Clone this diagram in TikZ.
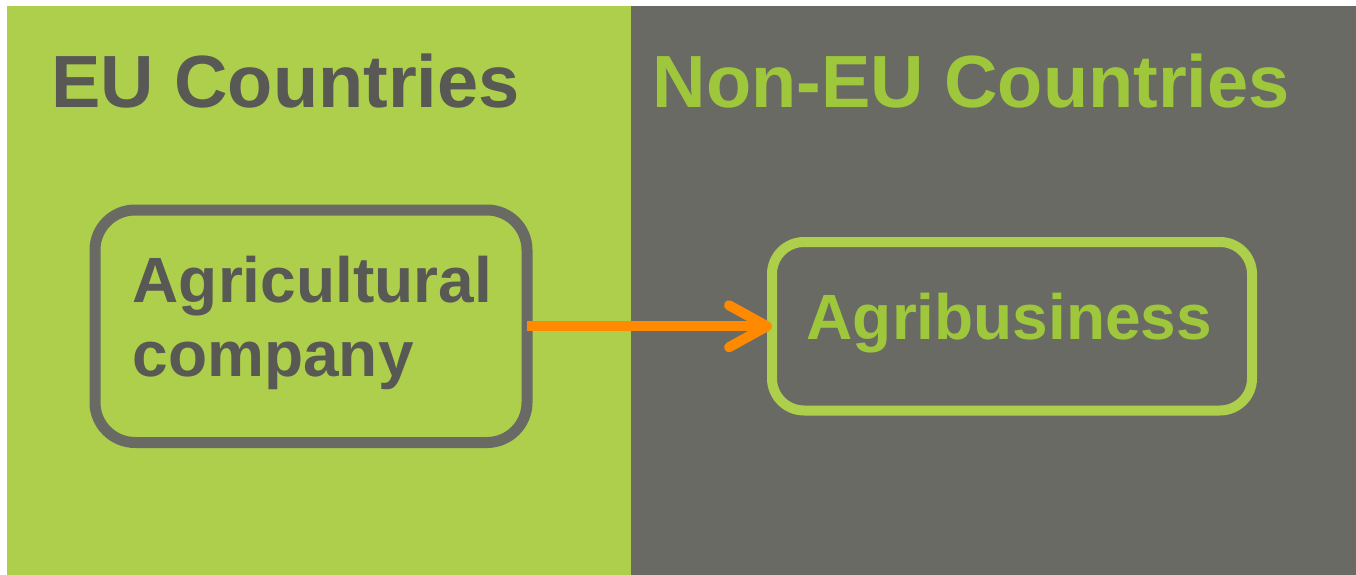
\documentclass[tikz,border=0pt]{standalone}
\usepackage{fontspec}
\setmainfont{Liberation Sans}
\usetikzlibrary{arrows.meta}
\definecolor{eugreen}{RGB}{173,207,76}
\definecolor{eugray}{RGB}{106,106,100}
\definecolor{darktext}{RGB}{88,88,85}
\definecolor{greentext}{RGB}{158,199,60}
\definecolor{arroworange}{RGB}{255,138,0}
\begin{document}
\begin{tikzpicture}[x=1pt,y=-1pt,
  boxnode/.style={draw, outer sep=0pt, inner sep=0pt},
  titletext/.style={inner sep=0pt, anchor=base west, font=\bfseries\fontsize{74}{74}\selectfont},
  boxtext/.style={inner sep=0pt, anchor=base west, font=\bfseries\fontsize{64}{64}\selectfont},
  flowarrow/.style={draw=arroworange, line width=10pt, -{Straight Barb[length=38pt,width=42pt,round]}}
]
\useasboundingbox (0,0) rectangle (1356,575);
\fill[white] (0,0) rectangle (1356,575);
\fill[eugreen] (7,6) rectangle (631,575.5);
\fill[eugray] (631,6) rectangle (1356.5,575.5);

\node[boxnode, draw=eugray, line width=11pt, rounded corners=40pt,
      minimum width=432pt, minimum height=232.5pt] (agri) at (311,326.25) {};
\node[boxnode, draw=eugreen, line width=10pt, rounded corners=32pt,
      minimum width=480pt, minimum height=168.5pt] (agb) at (1012,326.25) {};

\draw[flowarrow] (agri.east) -- (agb.west);

\node[titletext, text=darktext] (t1) at (51,108) {EU Countries};
\node[titletext, text=greentext] (t2) at (652.5,108) {Non-EU Countries};
\node[boxtext, text=darktext] (l1) at (132.5,302.3) {Agricultural};
\node[boxtext, text=darktext] (l2) at (132.5,376.7) {company};
\node[boxtext, text=greentext] (l3) at (806.5,339.3) {Agribusiness};
\end{tikzpicture}
\end{document}
